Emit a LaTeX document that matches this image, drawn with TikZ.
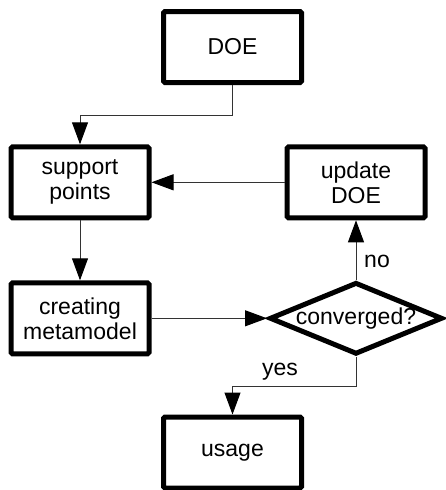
\documentclass[tikz,border=0pt]{standalone}
\usepackage{fontspec}
\setmainfont{Liberation Sans}
\usetikzlibrary{arrows.meta,shapes.geometric}
\begin{document}
\begin{tikzpicture}[x=1pt,y=-1pt,
  every node/.style={font=\fontsize{23}{25}\selectfont, align=center},
  box/.style={draw, line width=5pt, rounded corners=1.5pt, minimum width=138pt, minimum height=71pt, inner sep=0pt},
  decide/.style={draw, shape=diamond, line width=5pt, inner sep=0pt, aspect=2.46, minimum width=172pt, minimum height=72pt},
  conn/.style={draw=black!80, line width=1pt, -{Triangle[length=22pt,width=16pt,color=black]}},
  lbl/.style={inner sep=1pt}]
\useasboundingbox (0,0) rectangle (446,490);
\node[box] (doe) at (232.5,47) {DOE};
\node[box] (sup) at (80,182.3) {support\\points};
\node[box] (upd) at (356,182.3) {update\\DOE};
\node[box] (cre) at (80,318.3) {creating\\metamodel};
\node[decide] (conv) at (356,318.3) {converged?};
\node[box] (use) at (232.5,452.5) {usage};
\coordinate (j1) at (80,115);
\coordinate (j2) at (232.5,386);
\draw[conn] (doe.south) |- (j1) -- (sup.north);
\draw[conn] (upd.west) -- (sup.east);
\draw[conn] (sup.south) -- (cre.north);
\draw[conn] (cre.east) -- (conv.west);
\draw[conn] (conv.north) -- (upd.south);
\draw[conn] (conv.south) |- (j2) -- (use.north);
\node[lbl] (no) at (377,261) {no};
\node[lbl] (yes) at (280,372) {yes};
\end{tikzpicture}
\end{document}
